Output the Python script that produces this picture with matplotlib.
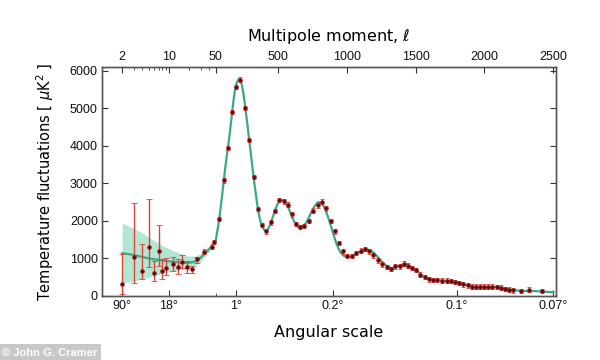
import numpy as np
import matplotlib
matplotlib.use('Agg')
import matplotlib.pyplot as plt

# low-l points (individual multipoles), asymmetric errors
ell_low = [2, 3, 4, 5, 6, 7, 8, 9, 11.5, 13.6, 15.7, 18.7, 22.2, 26.3]
dl_low = [320, 1045, 665, 1310, 620, 1200, 665, 735, 850, 780, 910, 765, 710, 975]
dl_low_top = [1110, 2480, 1380, 2590, 925, 1890, 975, 1000, 1045, 975, 1090, 925, 800, 1030]
dl_low_bot = [60, 350, 440, 780, 410, 800, 450, 560, 665, 585, 735, 620, 620, 870]

# binned high-l points
ell_bin = [34, 44, 47, 77, 108, 140, 169, 200, 229, 265,
           294, 326, 355, 386, 415, 451, 480, 512, 543, 572,
           604, 633, 664, 693, 725, 758, 790, 819, 850, 886,
           915, 942, 971, 1002, 1036, 1067, 1104, 1133, 1159, 1193,
           1225, 1256, 1290, 1321, 1352, 1386, 1413, 1442, 1473, 1502,
           1533, 1567, 1599, 1627, 1659, 1691, 1725, 1756, 1787, 1816,
           1845, 1877, 1908, 1937, 1968, 1997, 2026, 2058, 2089, 2118,
           2149, 2178, 2210, 2263, 2323, 2420]
dl_bin = [1180, 1310, 1440, 2050, 3080, 3940, 4900, 5560, 5760, 5000,
          4160, 3170, 2320, 1890, 1720, 1960, 2260, 2550, 2520, 2430,
          2170, 1920, 1840, 1860, 1990, 2270, 2410, 2510, 2330, 1990,
          1720, 1410, 1190, 1060, 1060, 1150, 1210, 1255, 1190, 1080,
          950, 840, 770, 720, 790, 790, 860, 810, 750, 690,
          570, 500, 440, 420, 420, 410, 410, 395, 370, 350,
          305, 280, 250, 245, 250, 250, 245, 245, 235, 220,
          190, 170, 145, 130, 170, 130]

# best-fit model curve
ell_model = [2, 3, 4, 5, 6, 8, 10, 13, 16, 20, 25, 30, 35, 40, 45, 50,
             60, 70, 80, 90, 100, 110, 120, 130, 140, 150, 160, 170, 180, 190,
             200, 210, 220, 230, 240, 250, 260, 270, 280, 290,
             300, 310, 320, 330, 340, 350, 360, 370, 380, 390,
             400, 410, 420, 430, 440, 450, 460, 470, 480, 490,
             500, 510, 520, 530, 540, 550, 560, 570, 580, 590,
             600, 610, 620, 630, 640, 650, 660, 670, 680, 690,
             700, 710, 720, 730, 740, 750, 760, 770, 780, 790,
             800, 810, 820, 830, 840, 850, 860, 870, 880, 890,
             900, 910, 920, 930, 940, 950, 960, 970, 980, 990,
             1000, 1020, 1040, 1060, 1080, 1100, 1120, 1140, 1160, 1180,
             1200, 1220, 1240, 1260, 1280, 1300, 1320, 1340, 1360, 1380,
             1400, 1420, 1440, 1460, 1480, 1500, 1520, 1540, 1560, 1580, 1600,
             1630, 1660, 1690, 1720, 1750, 1780, 1810, 1840, 1870, 1900,
             1950, 2000, 2050, 2100, 2150, 2200, 2250, 2300, 2350, 2400, 2450, 2500]
dl_model = [1140, 1090, 1040, 1000, 975, 945, 920, 900, 885, 880, 920, 1020, 1140, 1250, 1350, 1460,
            1670, 1890, 2150, 2450, 2780, 3110, 3420, 3690, 3960, 4250, 4570, 4900, 5220, 5470,
            5640, 5740, 5780, 5740, 5620, 5420, 5170, 4880, 4580, 4260,
            3960, 3640, 3330, 3030, 2750, 2490, 2250, 2060, 1920, 1830,
            1770, 1740, 1740, 1780, 1850, 1940, 2050, 2160, 2270, 2370,
            2450, 2510, 2540, 2550, 2540, 2510, 2470, 2410, 2330, 2240,
            2150, 2060, 1980, 1910, 1860, 1830, 1820, 1830, 1850, 1880,
            1920, 1970, 2040, 2120, 2200, 2270, 2340, 2400, 2450, 2490,
            2500, 2490, 2460, 2410, 2340, 2260, 2160, 2050, 1930, 1810,
            1690, 1570, 1460, 1360, 1270, 1200, 1140, 1100, 1070, 1050,
            1040, 1040, 1060, 1100, 1150, 1190, 1220, 1240, 1230, 1200,
            1140, 1060, 980, 900, 830, 780, 745, 745, 770, 800,
            830, 850, 830, 790, 740, 700, 640, 570, 510, 465, 440,
            425, 418, 412, 405, 392, 372, 350, 315, 285, 260,
            248, 248, 243, 232, 200, 160, 138, 130, 130, 122, 108, 98]

# cosmic variance band at low l
ell_band = [2, 3, 4, 5, 6, 8, 10, 13, 16, 20, 25, 30, 35, 40, 45, 50, 60]
band_top = [1940, 1800, 1680, 1560, 1480, 1340, 1260, 1170, 1110, 1060, 1060, 1130, 1230,
            1320, 1410, 1510, 1710]
band_bot = [340, 400, 450, 500, 540, 590, 640, 690, 710, 730, 800, 920, 1060, 1180, 1290,
            1410, 1630]

top_ticks = [2, 10, 50, 500, 1000, 1500, 2000, 2500]
bottom_ticks = [2, 10, 200, 900, 1800, 2500]
bottom_labels = ['90°', '18°', '1°', '0.2°', '0.1°', '0.07°']


def fwd(l):
    l = np.asarray(l, dtype=float)
    return np.where(l >= 50, l, 50 + 485 * np.log10(np.clip(l, 1e-3, None) / 50))


def inv(x):
    x = np.asarray(x, dtype=float)
    return np.where(x >= 50, x, 50 * 10 ** ((np.minimum(x, 50) - 50) / 485))


plt.rcParams['font.family'] = ['Liberation Sans', 'DejaVu Sans']
plt.rcParams['mathtext.fontset'] = 'dejavusans'

fig = plt.figure(figsize=(6, 3.6), dpi=100)
ax = fig.add_axes([0.17, 0.178, 0.757, 0.636])
ax.set_xscale('function', functions=(fwd, inv))

teal = '#3aa98a'
ax.fill_between(ell_band, band_bot, band_top, color='#b2e6d1', lw=0, zorder=1)
ax.plot(ell_model, dl_model, color=teal, lw=1.6, zorder=2)

ax.errorbar(ell_low, dl_low,
            yerr=[np.array(dl_low) - np.array(dl_low_bot), np.array(dl_low_top) - np.array(dl_low)],
            fmt='o', ms=2.6, color='#5a0606', mec='#a01010', mew=0.6, ecolor='#d8453a',
            elinewidth=1.0, capsize=2, capthick=0.8, zorder=3)
ax.errorbar(ell_bin, dl_bin, yerr=60, fmt='o', ms=2.6, color='#5a0606', mec='#a01010',
            mew=0.6, ecolor='#d8453a', elinewidth=0.8, capsize=1.5, capthick=0.6, zorder=3)

ax.set_xlim(1.0, 2520)
ax.set_ylim(0, 6100)
ax.set_yticks([0, 1000, 2000, 3000, 4000, 5000, 6000])

ax.set_xticks(bottom_ticks)
ax.set_xticklabels(bottom_labels)
ax.xaxis.set_minor_locator(matplotlib.ticker.FixedLocator([50]))
ax.xaxis.set_minor_formatter(matplotlib.ticker.NullFormatter())

ax2 = ax.twiny()
ax2.set_xscale('function', functions=(fwd, inv))
ax2.set_xlim(ax.get_xlim())
ax2.set_xticks(top_ticks)
ax2.set_xticklabels([str(t) for t in top_ticks])
ax2.xaxis.set_minor_locator(matplotlib.ticker.FixedLocator(
    [3, 4, 5, 6, 7, 8, 9, 20, 30, 40]))
ax2.xaxis.set_minor_formatter(matplotlib.ticker.NullFormatter())

for a in (ax, ax2):
    a.tick_params(which='both', direction='in', labelsize=9, colors='#333333',
                  labelcolor='#111111', top=False, right=True)
    a.tick_params(which='major', length=4, pad=3)
    a.tick_params(which='minor', length=2)
    for s in a.spines.values():
        s.set_color('#555555')
        s.set_linewidth(1.0)
ax2.tick_params(which='both', top=True, bottom=False)

ax2.set_xlabel(r'Multipole moment, $\ell$', fontsize=11.5, labelpad=7, family='DejaVu Sans')
ax.set_xlabel('Angular scale', fontsize=11.5, labelpad=9, family='DejaVu Sans')
ax.set_ylabel(r'Temperature fluctuations [ $\mu$K$^2$ ]', fontsize=10.5, labelpad=10,
              family='DejaVu Sans')

fig.text(0.004, 0.012, '© John G. Cramer', fontsize=8, color='white', weight='bold',
         bbox=dict(facecolor='#c8c8c8', edgecolor='none', pad=2.5))

fig.savefig('out.png', dpi=100)
